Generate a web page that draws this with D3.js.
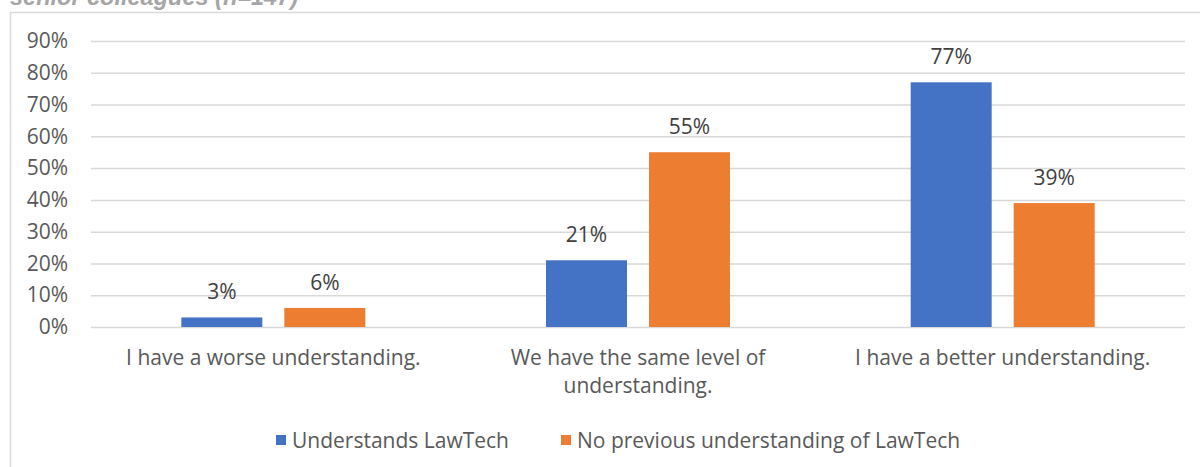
<!DOCTYPE html>
<html>
<head>
<meta charset="utf-8">
<script src="https://cdn.jsdelivr.net/npm/d3@7"></script>
<style>
  html, body { margin: 0; padding: 0; background: #fff; }
  svg { display: block; font-family: "Open Sans", "Noto Sans", sans-serif; }
</style>
</head>
<body>
<svg id="chart" width="1200" height="467"></svg>
<script>
// Survey responses: understanding compared with senior colleagues
const categories = [
  "I have a worse understanding.",
  "We have the same level of understanding.",
  "I have a better understanding."
];
const seriesNames = ["Understands LawTech", "No previous understanding of LawTech"];
const seriesColors = ["#4472c4", "#ed7d31"];
const understands = [3, 21, 77];
const noPrevious = [6, 55, 39];
const yTicks = [0, 10, 20, 30, 40, 50, 60, 70, 80, 90];
const titleText = "senior colleagues (n=147)";

const svg = d3.select("#chart");
const W = 1200, H = 467;
const plot = { left: 91, right: 1185, top: 41, bottom: 327 };
const fontSize = 21;

// Chart frame
svg.append("rect")
  .attr("x", 10.5).attr("y", 12.5)
  .attr("width", W + 10).attr("height", H + 10)
  .attr("fill", "none").attr("stroke", "#d9d9d9").attr("stroke-width", 1.5);

// Title (partially outside the top of the frame)
svg.append("text")
  .attr("x", 10).attr("y", 5)
  .attr("font-family", "Liberation Sans, Arial, sans-serif")
  .attr("font-weight", "bold").attr("font-style", "italic")
  .attr("font-size", 23.5).attr("fill", "#a6a6a6")
  .text(titleText);

const y = d3.scaleLinear().domain([0, 90]).range([plot.bottom, plot.top]);

const x0 = d3.scaleBand().domain(categories).range([plot.left, plot.right]);
const barW = 81, gap = 22;
const step = barW + gap;
const pInner = gap / step;
const pOuter = (x0.bandwidth() / step - (seriesNames.length - pInner)) / 2;
const x1 = d3.scaleBand().domain(seriesNames)
  .range([0, x0.bandwidth()]).paddingInner(pInner).paddingOuter(pOuter);

// Gridlines and y axis labels
const yAxis = d3.axisLeft(y).tickValues(yTicks)
  .tickSize(-(plot.right - plot.left)).tickPadding(23)
  .tickFormat(d => d + "%");
const gy = svg.append("g").attr("transform", `translate(${plot.left},0)`).call(yAxis);
gy.select(".domain").remove();
gy.selectAll(".tick line").attr("stroke", "#d9d9d9").attr("stroke-width", 1.5);
gy.selectAll(".tick text")
  .attr("font-size", fontSize).attr("fill", "#595959")
  .attr("font-family", "Open Sans, sans-serif");

// Bars
const rows = categories.map((c, i) => ({ cat: c, vals: [understands[i], noPrevious[i]] }));
const groups = svg.append("g").selectAll("g").data(rows).join("g")
  .attr("transform", d => `translate(${x0(d.cat)},0)`);

groups.selectAll("rect")
  .data(d => d.vals.map((v, j) => ({ name: seriesNames[j], v, j })))
  .join("rect")
  .attr("x", d => x1(d.name))
  .attr("y", d => y(d.v))
  .attr("width", x1.bandwidth())
  .attr("height", d => y(0) - y(d.v))
  .attr("fill", d => seriesColors[d.j]);

// Value labels
groups.selectAll("text.val")
  .data(d => d.vals.map((v, j) => ({ name: seriesNames[j], v, j })))
  .join("text").attr("class", "val")
  .attr("x", d => x1(d.name) + x1.bandwidth() / 2)
  .attr("y", d => y(d.v) - 18)
  .attr("text-anchor", "middle")
  .attr("font-size", fontSize).attr("fill", "#404040")
  .text(d => d.v + "%");

// Category axis with wrapped labels
const xAxis = d3.axisBottom(x0).tickSize(0).tickPadding(0);
const gx = svg.append("g").attr("transform", `translate(0,${plot.bottom})`).call(xAxis);
gx.select(".domain").remove();
gx.selectAll(".tick text").each(function(d) {
  const t = d3.select(this);
  t.text(null).attr("y", 0).attr("dy", null)
    .attr("font-size", fontSize).attr("fill", "#595959")
    .attr("font-family", "Open Sans, sans-serif");
  const words = d.split(" ");
  const maxW = 330;
  let lines = [], line = [];
  const probe = t.append("tspan");
  words.forEach(w => {
    const test = line.concat(w).join(" ");
    probe.text(test);
    if (probe.node().getComputedTextLength() > maxW && line.length) {
      lines.push(line.join(" "));
      line = [w];
    } else {
      line.push(w);
    }
  });
  lines.push(line.join(" "));
  probe.remove();
  lines.forEach((ln, i) => {
    t.append("tspan").attr("x", 0).attr("y", 38 + i * 28).text(ln);
  });
});

// Legend
const legend = svg.append("g").attr("transform", "translate(276,435)");
const legendX = [0, 285];
seriesNames.forEach((name, i) => {
  const g = legend.append("g").attr("transform", `translate(${legendX[i]},0)`);
  g.append("rect").attr("width", 10).attr("height", 10).attr("fill", seriesColors[i]);
  g.append("text").attr("x", 16).attr("y", 12.5)
    .attr("font-size", fontSize).attr("fill", "#595959")
    .text(name);
});
</script>
</body>
</html>
